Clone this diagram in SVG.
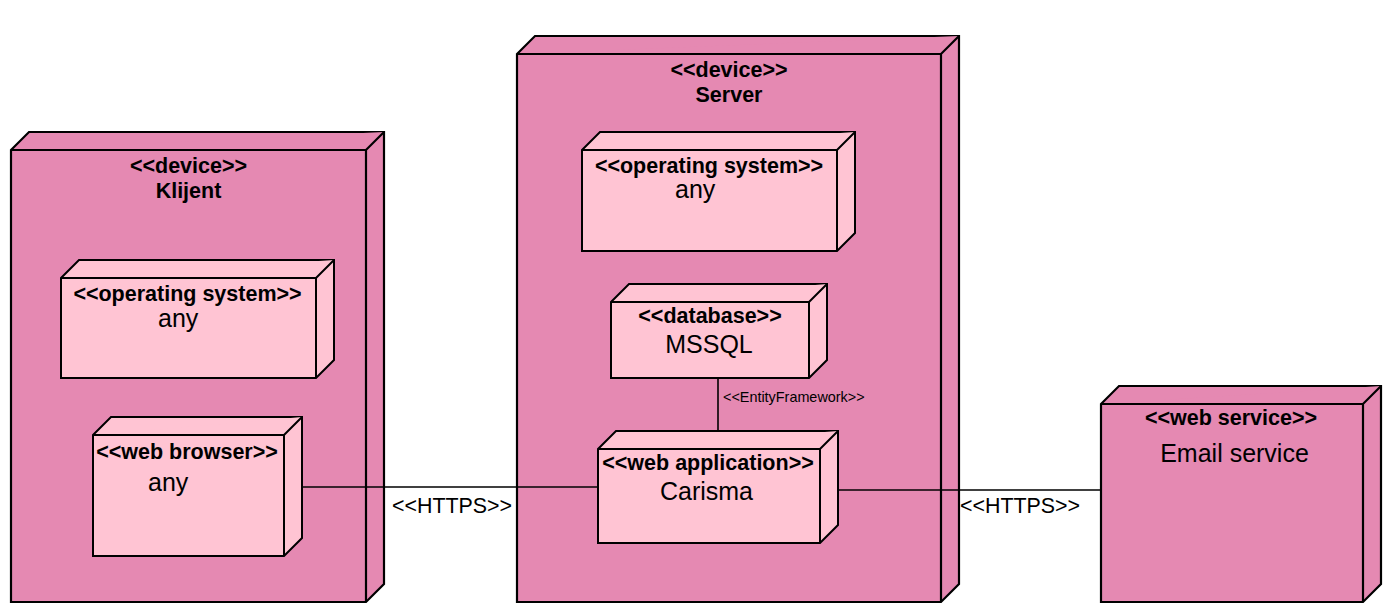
<svg xmlns="http://www.w3.org/2000/svg" width="1393" height="613" viewBox="0 0 1393 613">
<style>
.outer{fill:#E589B2;stroke:#000;stroke-width:2.2;stroke-linejoin:miter}
.inner{fill:#FFC4D3;stroke:#000;stroke-width:2;stroke-linejoin:miter}
.edge{fill:none;stroke:#000;stroke-width:1.6}
.b{font-family:"Liberation Sans",Arial,sans-serif;font-weight:bold;font-size:21.5px;fill:#000;text-anchor:middle}
.n{font-family:"Liberation Sans",Arial,sans-serif;font-size:25px;fill:#000}
.lbl{font-family:"Liberation Sans",Arial,sans-serif;font-size:21.4px;fill:#000}
.small{font-family:"Liberation Sans",Arial,sans-serif;font-size:14.4px;fill:#000}
</style>
<rect width="1393" height="613" fill="#fff"/>
<g id="klijent">
<path class="outer" d="M11,150 L29,132 L384,132 L384,584 L366,602 L11,602 Z"/>
<path class="outer" d="M11,150 L366,150 L384,132 M366,150 L366,602" fill="none"/>
<text class="b" x="188.5" y="173">&lt;&lt;device&gt;&gt;</text>
<text class="b" x="188.5" y="198">Klijent</text>
</g>
<g id="server">
<path class="outer" d="M517,54 L535,36 L959,36 L959,584 L941,602 L517,602 Z"/>
<path class="outer" d="M517,54 L941,54 L959,36 M941,54 L941,602" fill="none"/>
<text class="b" x="729" y="77">&lt;&lt;device&gt;&gt;</text>
<text class="b" x="729" y="102">Server</text>
</g>
<g id="email-service">
<path class="outer" d="M1101,404 L1119,386 L1381,386 L1381,584 L1363,602 L1101,602 Z"/>
<path class="outer" d="M1101,404 L1363,404 L1381,386 M1363,404 L1363,602" fill="none"/>
<text class="b" x="1231" y="425">&lt;&lt;web service&gt;&gt;</text>
<text class="n" x="1234.5" y="462" text-anchor="middle">Email service</text>
</g>
<g id="klijent-os">
<path class="inner" d="M61,278 L79,260 L334,260 L334,360 L316,378 L61,378 Z"/>
<path class="inner" d="M61,278 L316,278 L334,260 M316,278 L316,378" fill="none"/>
<text class="b" x="187.5" y="301">&lt;&lt;operating system&gt;&gt;</text>
<text class="n" x="158" y="327">any</text>
</g>
<g id="web-browser">
<path class="inner" d="M93,435 L111,417 L302,417 L302,538 L284,556 L93,556 Z"/>
<path class="inner" d="M93,435 L284,435 L302,417 M284,435 L284,556" fill="none"/>
<text class="b" x="187" y="459">&lt;&lt;web browser&gt;&gt;</text>
<text class="n" x="148" y="491">any</text>
</g>
<g id="server-os">
<path class="inner" d="M582,150 L600,132 L855,132 L855,233 L837,251 L582,251 Z"/>
<path class="inner" d="M582,150 L837,150 L855,132 M837,150 L837,251" fill="none"/>
<text class="b" x="709" y="173">&lt;&lt;operating system&gt;&gt;</text>
<text class="n" x="675" y="198">any</text>
</g>
<g id="database">
<path class="inner" d="M611,302 L629,284 L827,284 L827,360 L809,378 L611,378 Z"/>
<path class="inner" d="M611,302 L809,302 L827,284 M809,302 L809,378" fill="none"/>
<text class="b" x="710" y="323">&lt;&lt;database&gt;&gt;</text>
<text class="n" x="709" y="353" text-anchor="middle">MSSQL</text>
</g>
<g id="web-application">
<path class="inner" d="M598,449 L616,431 L838,431 L838,525 L820,543 L598,543 Z"/>
<path class="inner" d="M598,449 L820,449 L838,431 M820,449 L820,543" fill="none"/>
<text class="b" x="708" y="470">&lt;&lt;web application&gt;&gt;</text>
<text class="n" x="706.5" y="500" text-anchor="middle">Carisma</text>
</g>
<g id="connectors">
<line class="edge" x1="302" y1="487" x2="598" y2="487"/>
<line class="edge" x1="838" y1="490" x2="1101" y2="490"/>
<line class="edge" x1="718" y1="378" x2="718" y2="431"/>
<text class="lbl" x="392" y="513">&lt;&lt;HTTPS&gt;&gt;</text>
<text class="lbl" x="960" y="513">&lt;&lt;HTTPS&gt;&gt;</text>
<text class="small" x="723" y="402">&lt;&lt;EntityFramework&gt;&gt;</text>
</g>
</svg>
